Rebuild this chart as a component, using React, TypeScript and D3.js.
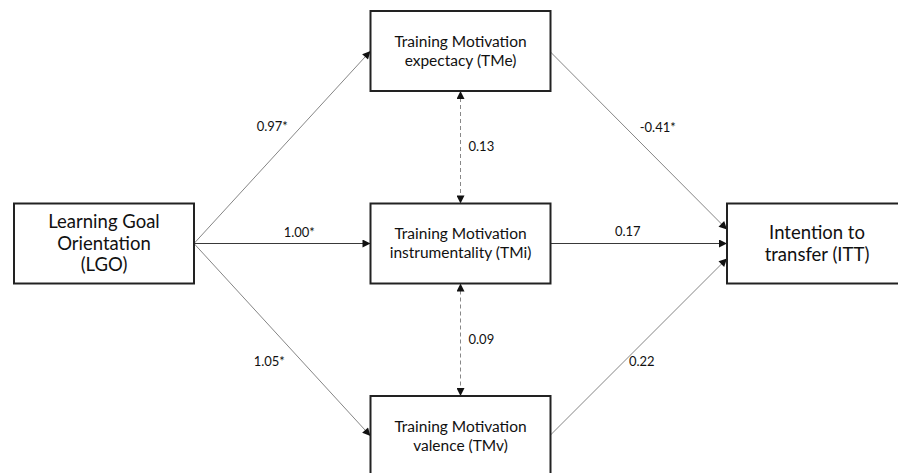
import React from "react";
import * as d3 from "d3";

// ---- data ----
const nodeIds = ["LGO", "TMe", "TMi", "TMv", "ITT"];
const nodeLines = [
  ["Learning Goal", "Orientation", "(LGO)"],
  ["Training Motivation", "expectacy (TMe)"],
  ["Training Motivation", "instrumentality (TMi)"],
  ["Training Motivation", "valence (TMv)"],
  ["Intention to", "transfer (ITT)"],
];
const nodeCol = [0, 1, 1, 1, 2];
const nodeRow = [1, 0, 1, 2, 1];

const edgeFrom = ["LGO", "LGO", "LGO", "TMe", "TMi", "TMv"];
const edgeTo = ["TMe", "TMi", "TMv", "ITT", "ITT", "ITT"];
const edgeLabels = ["0.97*", "1.00*", "1.05*", "-0.41*", "0.17", "0.22"];

const covFrom = ["TMe", "TMi"];
const covTo = ["TMi", "TMv"];
const covLabels = ["0.13", "0.09"];

// ---- layout ----
const W = 898;
const H = 473;
const BW = 180;
const BH = 80;
const x = d3.scalePoint<number>().domain([0, 1, 2]).range([104, 817]);
const y = d3.scalePoint<number>().domain([0, 1, 2]).range([51, 436]);

const arriveDy = [0, 0, 0, -14, 0, 15];
const departDy = [0, 0, 0, 1, 0, -1];
const labelOff = [
  [-10, -16],
  [17, -7],
  [-13, 26],
  [19, -9],
  [-11, -8],
  [3, 19],
];

const font = "Lato, 'Open Sans', sans-serif";

export default function App() {
  const pos = (id: string) => {
    const i = nodeIds.indexOf(id);
    return { cx: x(nodeCol[i])!, cy: y(nodeRow[i])! };
  };
  const line = d3.line();

  return (
    <div style={{ position: "fixed", left: 0, top: 0 }}>
      <svg width={W} height={H} viewBox={`0 0 ${W} ${H}`} style={{ display: "block", background: "#fff" }}>
        <defs>
          <marker id="ah" viewBox="0 0 10 10" refX="10" refY="5" markerWidth="9" markerHeight="8" markerUnits="userSpaceOnUse" orient="auto-start-reverse">
            <path d="M0,0 L10,5 L0,10 z" fill="#111" />
          </marker>
        </defs>

        {edgeFrom.map((f, i) => {
          const s = pos(f);
          const t = pos(edgeTo[i]);
          const x1 = s.cx + BW / 2;
          const y1 = s.cy + departDy[i];
          const x2 = t.cx - BW / 2;
          const y2 = t.cy + arriveDy[i];
          const mx = (x1 + x2) / 2 + labelOff[i][0];
          const my = (y1 + y2) / 2 + labelOff[i][1];
          const horizontal = y1 === y2;
          return (
            <g key={"e" + i}>
              <path
                d={line([[x1, y1], [x2, y2]])!}
                stroke={horizontal ? "#222" : "#666"}
                strokeWidth={horizontal ? 0.9 : 0.8}
                fill="none"
                markerEnd="url(#ah)"
              />
              <text x={mx} y={my} textAnchor="middle" fontFamily={font} fontSize={13} fill="#111">
                {edgeLabels[i]}
              </text>
            </g>
          );
        })}

        {covFrom.map((f, i) => {
          const s = pos(f);
          const t = pos(covTo[i]);
          const x0 = s.cx;
          const y1 = s.cy + BH / 2;
          const y2 = t.cy - BH / 2;
          return (
            <g key={"c" + i}>
              <path
                d={line([[x0, y1], [x0, y2]])!}
                stroke="#888"
                strokeWidth={1}
                strokeDasharray="4 3"
                fill="none"
                markerStart="url(#ah)"
                markerEnd="url(#ah)"
              />
              <text x={x0 + 8} y={(y1 + y2) / 2 + 4} fontFamily={font} fontSize={13} fill="#111">
                {covLabels[i]}
              </text>
            </g>
          );
        })}

        {nodeIds.map((id, i) => {
          const { cx, cy } = pos(id);
          const lines = nodeLines[i];
          const big = lines.length === 3 || id === "ITT";
          const fs = big ? 18.5 : 15.5;
          const lh = big ? 21.5 : 19;
          const y0 = cy - ((lines.length - 1) * lh) / 2 + fs * 0.35;
          return (
            <g key={id}>
              <rect x={cx - BW / 2} y={cy - BH / 2} width={BW} height={BH} fill="#fff" stroke="#222" strokeWidth={2} />
              {lines.map((l, j) => (
                <text key={j} x={cx} y={y0 + j * lh} textAnchor="middle" fontFamily={font} fontSize={fs} fill="#111">
                  {l}
                </text>
              ))}
            </g>
          );
        })}
      </svg>
    </div>
  );
}
